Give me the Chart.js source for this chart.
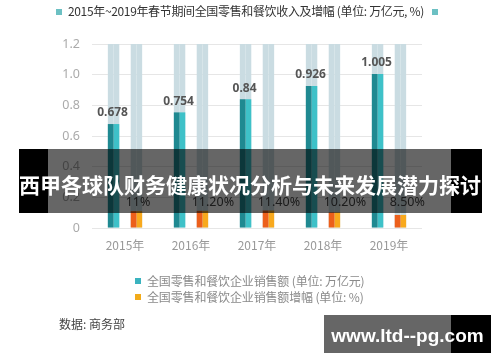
<!DOCTYPE html>
<html><head><meta charset="utf-8">
<script src="https://cdn.jsdelivr.net/npm/chart.js@4.4.1/dist/chart.umd.min.js"></script>
<style>
body{margin:0;background:#fff;}
#wrap{position:relative;width:500px;height:362px;overflow:hidden;font-family:"Noto Sans CJK SC","Noto Sans",sans-serif;background:#fff;}
#c{position:absolute;left:0;top:0;}
.sq{position:absolute;width:6px;height:6px;}
.txt{position:absolute;white-space:nowrap;line-height:1;}
#title{left:68px;top:5px;font-size:12px;color:#333;letter-spacing:-0.35px;}
.leg{left:147px;font-size:12px;color:#8a8a8a;letter-spacing:-0.15px;}
#src{left:59px;top:318px;font-size:12px;color:#444;}
.band{position:absolute;top:149px;height:64px;}
#bannerText{position:absolute;left:0;width:500px;top:171px;text-align:center;font-size:21px;font-weight:bold;color:#fff;line-height:26px;white-space:nowrap;}
.wm{position:absolute;top:315px;height:38px;}
#wmText{position:absolute;left:324px;width:167px;top:325px;text-align:center;font-family:"Liberation Sans",Arial,sans-serif;font-weight:bold;font-size:19px;color:#fff;line-height:22px;}
</style></head><body>
<div id="wrap">
<canvas id="c" width="500" height="362"></canvas>
<div class="sq" style="left:56px;top:9px;background:#6cc0c3"></div>
<div class="txt" id="title">2015年~2019年春节期间全国零售和餐饮收入及增幅 (单位: 万亿元, %)</div>
<div class="sq" style="left:432px;top:9px;background:#6cc0c3"></div>

<div class="sq" style="left:135px;top:278px;background:#3ab3bf"></div>
<div class="txt leg" style="top:275px">全国零售和餐饮企业销售额 (单位: 万亿元)</div>
<div class="sq" style="left:135px;top:294px;background:#f2ab1a"></div>
<div class="txt leg" style="top:291px">全国零售和餐饮企业销售额增幅 (单位: %)</div>

<div class="txt" id="src">数据: 商务部</div>

<div class="band" style="left:19px;width:29px;background:#000"></div>
<div class="band" style="left:48px;width:403px;background:rgba(0,0,0,0.6)"></div>
<div class="band" style="left:451px;width:31px;background:#000"></div>
<div id="bannerText">西甲各球队财务健康状况分析与未来发展潜力探讨</div>

<div class="wm" style="left:324px;width:127px;background:rgba(0,0,0,0.6)"></div>
<div class="wm" style="left:451px;width:40px;background:#000"></div>
<div id="wmText">www.ltd--pg.com</div>
</div>
<script>
// ---- data ----
const categories = ['2015年', '2016年', '2017年', '2018年', '2019年'];
const sales = [0.678, 0.754, 0.84, 0.926, 1.005];          // 万亿元
const salesLabels = ['0.678', '0.754', '0.84', '0.926', '1.005'];
const growth = [11, 11.2, 11.4, 10.2, 8.5];                 // %
const growthLabels = ['11%', '11.20%', '11.40%', '10.20%', '8.50%'];
const backdrop = [1.2, 1.2, 1.2, 1.2, 1.2];
const yTicks = [0, 0.2, 0.4, 0.6, 0.8, 1.0, 1.2];

const growthFrac = growth.map(v => v / 100);
const empty = categories.map(() => null);

const labelPlugin = {
  id: 'valueLabels',
  afterDatasetsDraw(chart) {
    const ctx = chart.ctx;
    const m0 = chart.getDatasetMeta(0), m1 = chart.getDatasetMeta(1), m4 = chart.getDatasetMeta(4);
    const y0 = chart.scales.y.getPixelForValue(0);
    ctx.save();
    ctx.fillStyle = '#555';
    ctx.textBaseline = 'middle';
    ctx.font = 'bold 12px "Noto Sans", "Noto Sans CJK SC", sans-serif';
    ctx.textAlign = 'center';
    m0.data.forEach((bar, i) => {
      const cx = (bar.x + m1.data[i].x) / 2 - 1;
      ctx.fillText(salesLabels[i], cx, bar.y - 11);
    });
    ctx.font = '12.5px "Noto Sans", "Noto Sans CJK SC", sans-serif';
    ctx.fillStyle = '#444';
    ctx.textAlign = 'left';
    m4.data.forEach((bar, i) => {
      const left = bar.x - bar.width / 2;
      ctx.fillText(growthLabels[i], left - 5, y0 - 26);
    });
    ctx.restore();
  }
};

const common = { categoryPercentage: 0.52, barPercentage: 1.0, borderWidth: 0 };
const BG = '#cadce2';
new Chart(document.getElementById('c'), {
  type: 'bar',
  data: {
    labels: categories,
    datasets: [
      { data: sales, backgroundColor: '#1f8991', stack: 'tD', order: 0, ...common },
      { data: sales, backgroundColor: '#3ec1c8', stack: 'tL', order: 0, ...common },
      { data: empty, stack: 'g1', order: 0, ...common },
      { data: empty, stack: 'g2', order: 0, ...common },
      { data: growthFrac, backgroundColor: '#ec5f1b', stack: 'oD', order: 0, ...common },
      { data: growthFrac, backgroundColor: '#f8a91d', stack: 'oL', order: 0, ...common },
      { data: backdrop, backgroundColor: BG, stack: 'tD', order: 1, ...common },
      { data: backdrop, backgroundColor: BG, stack: 'tL', order: 1, ...common },
      { data: backdrop, backgroundColor: BG, stack: 'oD', order: 1, ...common },
      { data: backdrop, backgroundColor: BG, stack: 'oL', order: 1, ...common }
    ]
  },
  options: {
    responsive: false,
    animation: false,
    devicePixelRatio: 1,
    layout: { padding: { left: 0, right: 78, top: 44, bottom: 104 } },
    plugins: { legend: { display: false }, tooltip: { enabled: false }, title: { display: false } },
    scales: {
      x: {
        offset: true,
        grid: { display: false, drawTicks: false },
        border: { display: false },
        ticks: { color: '#999', padding: 10, font: { size: 12, family: '"Noto Sans CJK SC", sans-serif' } },
        afterFit: s => { s.height = 30; }
      },
      y: {
        stacked: false,
        min: 0, max: 1.2,
        afterBuildTicks: s => { s.ticks = yTicks.map(v => ({ value: v })); },
        grid: { color: '#e6e6e6', drawTicks: false },
        border: { display: false },
        ticks: {
          color: '#aaa', padding: 12,
          font: { size: 12.5, family: '"Noto Sans", sans-serif' },
          callback: v => v === 0 ? '0' : Number(v).toFixed(1)
        },
        afterFit: s => { s.width = 92; }
      }
    }
  },
  plugins: [labelPlugin]
});
</script>
</body></html>
